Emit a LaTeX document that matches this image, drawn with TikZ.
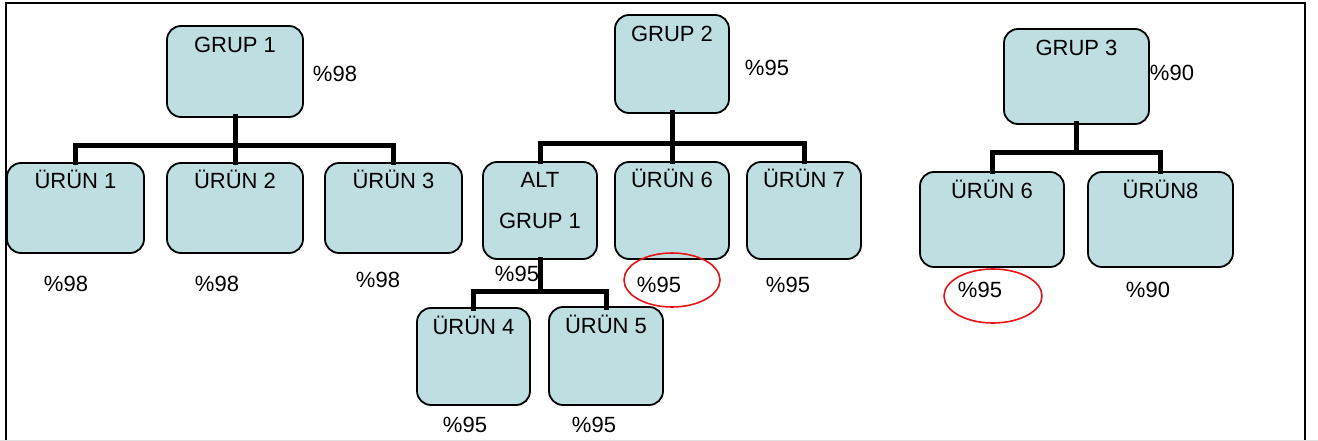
\documentclass[tikz,border=0pt]{standalone}
\usepackage{fontspec}
\setmainfont{Liberation Sans}
\usetikzlibrary{fit,shapes.geometric}
\definecolor{boxfill}{RGB}{191,222,226}
\definecolor{ringred}{RGB}{230,20,20}
\begin{document}
\begin{tikzpicture}[x=1pt,y=-1pt,
  box/.style={draw=black, line width=1.8pt, fill=boxfill, rounded corners=14pt,
              inner sep=0pt, outer sep=0pt},
  txt/.style={anchor=base, inner sep=0pt, font=\fontsize{22pt}{26pt}\selectfont},
  conn/.style={line width=5pt, black, line cap=rect},
  ring/.style={draw=ringred, line width=1.6pt}]
\useasboundingbox (0,0) rectangle (1318,441);
% outer frame
\draw[line width=2pt] (6,441) -- (6,3) -- (1305,3) -- (1305,441);
\draw[black!12, line width=1pt] (0,440.5) -- (1318,440.5);

% ---- group 1 ----
\node[box, fit={(167,26) (303,117)}] (g1) {};
\node[box, fit={(7,163) (144,253)}] (u1) {};
\node[box, fit={(167,163) (303,253)}] (u2) {};
\node[box, fit={(325,163) (462,253)}] (u3) {};
% ---- group 2 ----
\node[box, fit={(615,15) (729,113)}] (g2) {};
\node[box, fit={(483,162) (597,259)}] (alt) {};
\node[box, fit={(615,162) (729,259)}] (u6) {};
\node[box, fit={(747,162) (861,259)}] (u7) {};
\node[box, fit={(417,308) (530,405)}] (u4) {};
\node[box, fit={(549,307) (663,405)}] (u5) {};
% ---- group 3 ----
\node[box, fit={(1004,29) (1149,124)}] (g3) {};
\node[box, fit={(920,172) (1064,267)}] (u6b) {};
\node[box, fit={(1088,172) (1233,267)}] (u8) {};

% box captions
\node[txt] (g1t) at ([yshift=-27pt]g1.north) {GRUP 1};
\node[txt] (u1t) at ([yshift=-26pt]u1.north) {ÜRÜN 1};
\node[txt] (u2t) at ([yshift=-26pt]u2.north) {ÜRÜN 2};
\node[txt] (u3t) at ([yshift=-26pt]u3.north) {ÜRÜN 3};
\node[txt] (g2t) at ([yshift=-27pt]g2.north) {GRUP 2};
\node[txt] (altt) at ([yshift=-26pt]alt.north) {ALT};
\node[txt] (altt2) at ([yshift=-66pt]alt.north) {GRUP 1};
\node[txt] (u6t) at ([yshift=-26pt]u6.north) {ÜRÜN 6};
\node[txt] (u7t) at ([yshift=-26pt]u7.north) {ÜRÜN 7};
\node[txt] (u4t) at ([yshift=-26pt]u4.north) {ÜRÜN 4};
\node[txt] (u5t) at ([yshift=-26pt]u5.north) {ÜRÜN 5};
\node[txt] (g3t) at ([yshift=-27pt]g3.north) {GRUP 3};
\node[txt] (u6bt) at ([yshift=-26pt]u6b.north) {ÜRÜN 6};
\node[txt] (u8t) at ([yshift=-26pt]u8.north) {ÜRÜN8};

% percentages
\node[txt] (p1) at (335,82) {\%98};
\node[txt] (pu1) at (66,291) {\%98};
\node[txt] (pu2) at (217,291) {\%98};
\node[txt] (pu3) at (378,287) {\%98};
\node[txt] (p2) at (767,76) {\%95};
\node[txt] (palt) at (517,281) {\%95};
\node[txt] (pu6) at (659,292) {\%95};
\node[txt] (pu7) at (788,292) {\%95};
\node[txt] (pu4) at (465,432) {\%95};
\node[txt] (pu5) at (594,432) {\%95};
\node[txt] (p3) at (1172,81) {\%90};
\node[txt] (pu6b) at (980,297) {\%95};
\node[txt] (pu8) at (1148,297) {\%90};

% highlight rings
\node[ring, ellipse, minimum width=96pt, minimum height=54pt, inner sep=0pt] (r1) at (672,280) {};
\node[ring, ellipse, minimum width=98pt, minimum height=54pt, inner sep=0pt] (r2) at (993,296) {};

% tree connectors: each bus junction sits straight below its parent
\coordinate (b1) at (g1.south |- 0,146);
\draw[conn] (g1.south) -- (b1);
\draw[conn] (u1.north) |- (b1) -| (u3.north);
\draw[conn] (b1) -- (u2.north);

\coordinate (b2) at (g2.south |- 0,144);
\draw[conn] (g2.south) -- (b2);
\draw[conn] (alt.north) |- (b2) -| (u7.north);
\draw[conn] (b2) -- (u6.north);

\coordinate (b3) at (alt.south |- 0,291);
\draw[conn] (alt.south) -- (b3);
\draw[conn] (u4.north) |- (b3) -| (u5.north);

\coordinate (b4) at (g3.south |- 0,153);
\draw[conn] (g3.south) -- (b4);
\draw[conn] (u6b.north) |- (b4) -| (u8.north);
\end{tikzpicture}
\end{document}
